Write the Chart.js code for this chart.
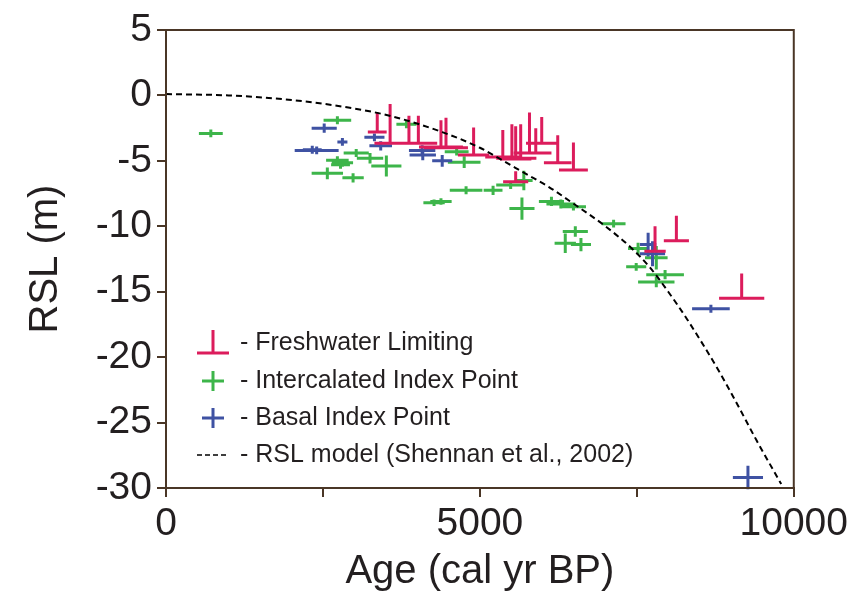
<!DOCTYPE html>
<html>
<head>
<meta charset="utf-8">
<script src="https://cdn.jsdelivr.net/npm/chart.js@4"></script>
<style>
  html, body { margin: 0; padding: 0; background: #fff; }
</style>
</head>
<body>
<canvas id="myChart" width="852" height="593"></canvas>
<script>
// Freshwater limiting: age (cal yr BP), age error, RSL at base of symbol, extent above base (m)
const fwAge    = [3365, 3570, 3870, 4020, 4380, 4460, 4900, 5365, 5510, 5570, 5650, 5790, 5890, 5985, 6240, 6490, 5570, 8130, 7790, 9170];
const fwAgeErr = [150, 250, 300, 300, 350, 350, 250, 280, 250, 250, 250, 250, 250, 250, 220, 230, 200, 200, 170, 360];
const fwRsl    = [-2.8, -3.65, -3.65, -3.65, -3.95, -4.0, -4.55, -4.7, -4.8, -4.85, -4.8, -4.4, -4.4, -3.65, -5.15, -5.7, -6.6, -11.1, -11.9, -15.5];
const fwUp     = [1.5, 3.0, 2.1, 2.1, 2.05, 2.3, 2.1, 2.05, 2.6, 2.5, 2.6, 3.1, 1.9, 2.0, 2.1, 2.1, 0.8, 1.9, 1.9, 1.9];

// Intercalated index points
const icAge    = [714, 2730, 2730, 2810, 2780, 2570, 2980, 3030, 3250, 3510, 3830, 4630, 4750, 4780, 5210, 4270, 4380, 5490, 5700, 5670, 6140, 6290, 6490, 7130, 6520, 6360, 6610, 7520, 7490, 7810, 7950, 7810];
const icAgeErr = [190, 220, 180, 170, 150, 250, 170, 200, 210, 240, 160, 190, 260, 260, 150, 170, 170, 230, 140, 200, 200, 230, 200, 190, 200, 170, 160, 160, 160, 180, 300, 290];
const icRsl    = [-2.9, -1.9, -4.95, -5.15, -5.3, -5.95, -6.3, -4.4, -4.8, -5.4, -2.2, -4.3, -5.1, -7.25, -7.25, -8.2, -8.1, -6.85, -6.5, -8.65, -8.1, -8.3, -8.5, -9.8, -10.4, -11.3, -11.4, -11.7, -13.1, -12.4, -13.7, -14.25];
const icRslErr = [0.3, 0.3, 0.3, 0.3, 0.3, 0.45, 0.35, 0.3, 0.4, 0.8, 0.3, 0.3, 0.45, 0.3, 0.35, 0.25, 0.25, 0.3, 0.75, 0.85, 0.35, 0.35, 0.3, 0.3, 0.4, 0.75, 0.5, 0.45, 0.3, 0.9, 0.35, 0.4];

// Basal index points
const bsAge    = [2520, 2810, 2400, 2330, 3320, 3420, 4080, 4090, 4400, 7680, 7750, 8680, 9270];
const bsAgeErr = [200, 80, 350, 150, 160, 180, 210, 210, 160, 130, 200, 300, 240];
const bsRsl    = [-2.5, -3.55, -4.2, -4.15, -3.2, -3.85, -4.2, -4.55, -5.0, -11.4, -12.1, -16.3, -29.2];
const bsRslErr = [0.35, 0.3, 0.3, 0.3, 0.3, 0.35, 0.4, 0.4, 0.45, 0.9, 0.95, 0.3, 0.9];

// RSL model (Shennan et al., 2002)
const modelAge = [0, 1000, 2000, 3000, 3600, 4400, 5000, 5300, 5700, 6100, 6500, 7000, 7400, 7700, 8000, 8300, 8800, 9100, 9400, 9800];
const modelRsl = [0.1, 0, -0.35, -1.0, -1.6, -2.8, -4.0, -4.8, -5.9, -7.0, -8.3, -10.0, -11.6, -13.1, -15.0, -17.1, -21.0, -23.6, -26.3, -29.7];

const xLabelled = [0, 5000, 10000];
const legendLabels = ['- Freshwater Limiting', '- Intercalated Index Point', '- Basal Index Point', '- RSL model (Shennan et al., 2002)'];

const RED = '#dc1c5c', GREEN = '#3db54a', BLUE = '#3f52a3', FRAME = '#4a3626', TEXT = '#231f20';

function pts(xs, ys) { return xs.map((v, i) => ({x: v, y: ys[i]})); }

const errorBars = {
  id: 'errorBars',
  beforeDatasetsDraw(chart) {
    const {ctx, scales: {x, y}} = chart;
    ctx.save();
    ctx.lineWidth = 3;
    function crosses(ages, aErr, rsl, rErr, color) {
      ctx.strokeStyle = color;
      ctx.beginPath();
      for (let i = 0; i < ages.length; i++) {
        const px = x.getPixelForValue(ages[i]), py = y.getPixelForValue(rsl[i]);
        ctx.moveTo(x.getPixelForValue(ages[i] - aErr[i]), py);
        ctx.lineTo(x.getPixelForValue(ages[i] + aErr[i]), py);
        ctx.moveTo(px, y.getPixelForValue(rsl[i] + rErr[i]));
        ctx.lineTo(px, y.getPixelForValue(rsl[i] - rErr[i]));
      }
      ctx.stroke();
    }
    crosses(icAge, icAgeErr, icRsl, icRslErr, GREEN);
    crosses(bsAge, bsAgeErr, bsRsl, bsRslErr, BLUE);
    ctx.strokeStyle = RED;
    ctx.beginPath();
    for (let i = 0; i < fwAge.length; i++) {
      const px = x.getPixelForValue(fwAge[i]), py = y.getPixelForValue(fwRsl[i]);
      ctx.moveTo(x.getPixelForValue(fwAge[i] - fwAgeErr[i]), py);
      ctx.lineTo(x.getPixelForValue(fwAge[i] + fwAgeErr[i]), py);
      ctx.moveTo(px, py);
      ctx.lineTo(px, y.getPixelForValue(fwRsl[i] + fwUp[i]));
    }
    ctx.stroke();
    ctx.restore();
  },
  afterDraw(chart) {
    const {ctx, chartArea: a} = chart;
    ctx.save();
    // frame
    ctx.strokeStyle = FRAME;
    ctx.lineWidth = 2;
    ctx.strokeRect(a.left, a.top, a.right - a.left, a.bottom - a.top);
    // legend
    const lx = a.left + 31, tx = a.left + 74;
    const rows = [a.top + 313, a.top + 351, a.top + 388, a.top + 425];
    ctx.lineWidth = 3;
    ctx.strokeStyle = RED;
    ctx.beginPath();
    ctx.moveTo(lx, rows[0] + 10); ctx.lineTo(lx + 32, rows[0] + 10);
    ctx.moveTo(lx + 16, rows[0] + 10); ctx.lineTo(lx + 16, rows[0] - 13);
    ctx.stroke();
    [[GREEN, rows[1]], [BLUE, rows[2]]].forEach(([c, ry]) => {
      ctx.strokeStyle = c;
      ctx.beginPath();
      ctx.moveTo(lx + 5, ry); ctx.lineTo(lx + 27, ry);
      ctx.moveTo(lx + 16, ry - 10); ctx.lineTo(lx + 16, ry + 10);
      ctx.stroke();
    });
    ctx.strokeStyle = '#000';
    ctx.lineWidth = 1.5;
    ctx.setLineDash([5, 3]);
    ctx.beginPath();
    ctx.moveTo(lx, rows[3]); ctx.lineTo(lx + 32, rows[3]);
    ctx.stroke();
    ctx.setLineDash([]);
    ctx.fillStyle = TEXT;
    ctx.font = '25px "Liberation Sans", Arial, sans-serif';
    ctx.textBaseline = 'middle';
    legendLabels.forEach((t, i) => ctx.fillText(t, tx, rows[i]));
    ctx.restore();
  }
};

const ctx = document.getElementById('myChart').getContext('2d');
const myChart = new Chart(ctx, {
  type: 'scatter',
  data: {
    datasets: [
      {
        label: 'RSL model (Shennan et al., 2002)',
        type: 'line',
        data: pts(modelAge, modelRsl),
        borderColor: '#000',
        borderWidth: 2,
        borderDash: [6, 4],
        pointRadius: 0,
        cubicInterpolationMode: 'monotone',
        fill: false
      }
    ]
  },
  plugins: [errorBars],
  options: {
    responsive: false,
    animation: false,
    layout: { padding: { top: 30, right: 56, left: 0, bottom: 0 } },
    plugins: { legend: { display: false }, tooltip: { enabled: false } },
    scales: {
      x: {
        type: 'linear', min: 0, max: 10000,
        afterFit(s) { s.height = 105; },
        ticks: {
          stepSize: 2500, maxRotation: 0, padding: 4, color: TEXT,
          font: { family: '"Liberation Sans", Arial, sans-serif', size: 39 },
          callback: v => xLabelled.includes(v) ? String(v) : ''
        },
        grid: { drawOnChartArea: false, tickLength: 9, color: FRAME, lineWidth: 2 },
        border: { color: FRAME, width: 2 },
        title: {
          display: true, text: 'Age (cal yr BP)', color: TEXT,
          font: { family: '"Liberation Sans", Arial, sans-serif', size: 40, lineHeight: 1 },
          padding: { top: 0, bottom: 1 }
        }
      },
      y: {
        type: 'linear', min: -30, max: 5,
        afterFit(s) { s.width = 166; },
        ticks: {
          stepSize: 5, padding: 5, color: TEXT,
          font: { family: '"Liberation Sans", Arial, sans-serif', size: 39 }
        },
        grid: { drawOnChartArea: false, tickLength: 9, color: FRAME, lineWidth: 2 },
        border: { color: FRAME, width: 2 },
        title: {
          display: true, text: 'RSL (m)', color: TEXT,
          font: { family: '"Liberation Sans", Arial, sans-serif', size: 40, lineHeight: 1 },
          padding: { top: 26, bottom: 0 }
        }
      }
    }
  }
});
</script>
</body>
</html>
